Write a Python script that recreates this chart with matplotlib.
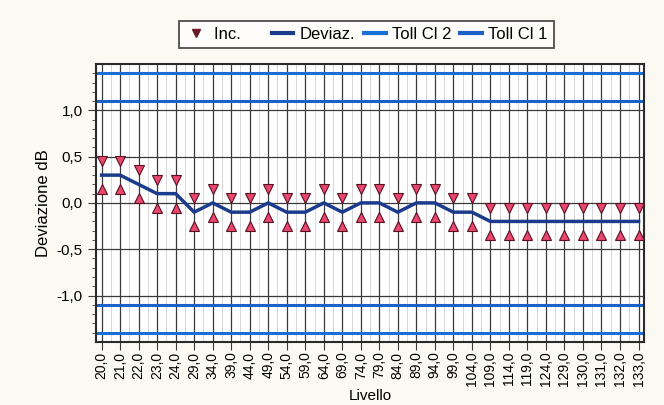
import matplotlib.pyplot as plt
import numpy as np
from matplotlib.lines import Line2D

plt.rcParams['font.family'] = ['Liberation Sans', 'DejaVu Sans']

# data
livello = ['20,0', '21,0', '22,0', '23,0', '24,0', '29,0', '34,0', '39,0', '44,0', '49,0',
           '54,0', '59,0', '64,0', '69,0', '74,0', '79,0', '84,0', '89,0', '94,0', '99,0',
           '104,0', '109,0', '114,0', '119,0', '124,0', '129,0', '130,0', '131,0', '132,0', '133,0']
deviaz = [0.3, 0.3, 0.2, 0.1, 0.1, -0.1, 0.0, -0.1, -0.1, 0.0,
          -0.1, -0.1, 0.0, -0.1, 0.0, 0.0, -0.1, 0.0, 0.0, -0.1,
          -0.1, -0.2, -0.2, -0.2, -0.2, -0.2, -0.2, -0.2, -0.2, -0.2]
inc = 0.15
toll_cl1 = 1.1
toll_cl2 = 1.4

x = np.arange(len(livello))
dev = np.array(deviaz)

fig = plt.figure(figsize=(6.64, 4.05), dpi=100, facecolor='#fbfaf2')
ax = fig.add_axes([0.1446, 0.156, 0.8254, 0.686])
ax.set_facecolor('white')

# grid
for xi in x:
    ax.axvline(xi, color='#3a3a3a', lw=0.9, zorder=1)
for xi in x[:-1] + 0.5:
    ax.axvline(xi, color='#d0d0d0', lw=0.6, zorder=1)
for yv in [-1.0, -0.5, 0.0, 0.5, 1.0]:
    ax.axhline(yv, color='#3a3a3a', lw=0.9, zorder=1)

# tolerances
for s in (1, -1):
    ax.axhline(s * toll_cl2, color='#1a6fd6', lw=2.2, zorder=2)
    ax.axhline(s * toll_cl1, color='#1a62c8', lw=2.2, zorder=2)

ax.plot(x, dev, color='#1b3c8c', lw=2.5, zorder=3)
ax.plot(x, dev + inc, 'v', ms=7, mfc='#e8476f', mec='#5a1020', mew=0.8, zorder=4)
ax.plot(x, dev - inc, '^', ms=7, mfc='#e8476f', mec='#5a1020', mew=0.8, zorder=4)

ax.set_xlim(-0.3, 29.3)
ax.set_ylim(-1.5, 1.5)
ax.set_xticks(x)
ax.set_xticklabels(livello, rotation=90, fontsize=10)
ax.set_yticks([-1.0, -0.5, 0.0, 0.5, 1.0])
ax.set_yticklabels(['-1,0', '-0,5', '0,0', '0,5', '1,0'], fontsize=11)
ax.set_yticks(np.arange(-1.4, 1.45, 0.1), minor=True)
ax.tick_params(axis='y', which='major', length=6, color='#3a3a3a')
ax.tick_params(axis='y', which='minor', length=3, color='#3a3a3a')
ax.tick_params(axis='x', length=6, color='#3a3a3a', pad=1)
for sp in ax.spines.values():
    sp.set_linewidth(1.5)
    sp.set_color('#2a2a2a')

ax.set_xlabel('Livello', fontsize=11, labelpad=2)
ax.set_ylabel('Deviazione dB', fontsize=12)

handles = [
    Line2D([], [], marker='v', ls='none', color='#6b1a2a', ms=6),
    Line2D([], [], color='#1b3c8c', lw=3),
    Line2D([], [], color='#1a6fd6', lw=3),
    Line2D([], [], color='#1a62c8', lw=3),
]
leg = fig.legend(handles, ['Inc.     ', 'Deviaz.', 'Toll Cl 2', 'Toll Cl 1'],
                 loc='center', bbox_to_anchor=(0.552, 0.915), ncol=4, fontsize=12,
                 frameon=True, fancybox=False, handlelength=1.3, handletextpad=0.4,
                 columnspacing=0.5, borderpad=0.35)
leg.get_frame().set_edgecolor('#222222')
leg.get_frame().set_linewidth(1.3)

fig.savefig('out.png', dpi=100, facecolor=fig.get_facecolor())
